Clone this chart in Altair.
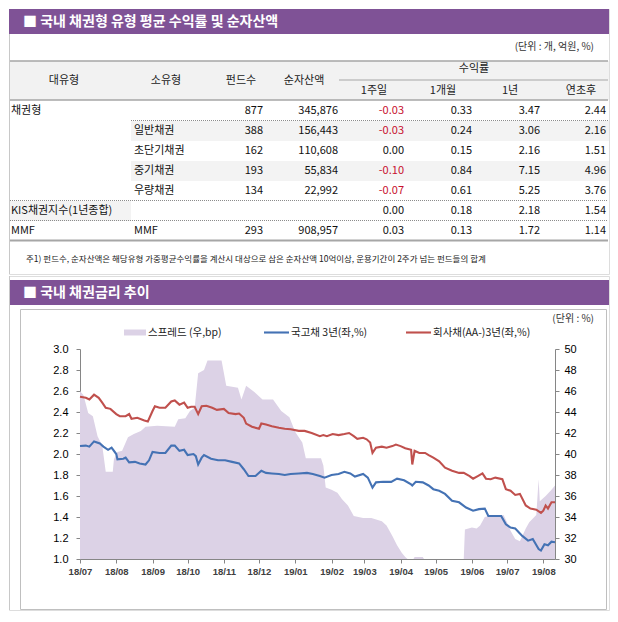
import altair as alt
import pandas as pd

FONT = "Noto Sans CJK KR"
NUMFONT = "Liberation Sans"
PURPLE = "#7f5296"
AREA = "#dcd2e6"
BLUE = "#4472b4"
RED = "#c0504d"
S = 1.0  # global layout scale


def P(v):
    return round(v * S, 2)


# ---------------- table ----------------
title_1 = "■ 국내 채권형 유형 평균 수익률 및 순자산액"
unit_1 = "(단위 : 개, 억원, %)"
header_cols = ["대유형", "소유형", "펀드수", "순자산액"]
return_group = "수익률"
return_cols = ["1주일", "1개월", "1년", "연초후"]
major_type = ["채권형", "", "", "", "", "KIS채권지수(1년종합)", "MMF"]
minor_type = ["", "일반채권", "초단기채권", "중기채권", "우량채권", "", "MMF"]
fund_count = [877, 388, 162, 193, 134, None, 293]
net_assets = [345876, 156443, 110608, 55834, 22992, None, 908957]
ret_1w = [-0.03, -0.03, 0.00, -0.10, -0.07, 0.00, 0.03]
ret_1m = [0.33, 0.24, 0.15, 0.84, 0.61, 0.18, 0.13]
ret_1y = [3.47, 3.06, 2.16, 7.15, 5.25, 2.18, 1.72]
ret_ytd = [2.44, 2.16, 1.51, 4.96, 3.76, 1.54, 1.14]
footnote = "주1) 펀드수, 순자산액은 해당유형 가중평균수익률을 계산시 대상으로 삼은 순자산액 10억이상, 운용기간이 2주가 넘는 펀드들의 합계"

# ---------------- chart ----------------
title_2 = "■ 국내 채권금리 추이"
unit_2 = "(단위 : %)"
legend_labels = ["스프레드 (우,bp)", "국고채 3년(좌,%)", "회사채(AA-)3년(좌,%)"]
y_left_ticks = [1.0, 1.2, 1.4, 1.6, 1.8, 2.0, 2.2, 2.4, 2.6, 2.8, 3.0]
y_right_ticks = [30, 32, 34, 36, 38, 40, 42, 44, 46, 48, 50]
month_ticks = [(2018, 7), (2018, 8), (2018, 9), (2018, 10), (2018, 11), (2018, 12),
               (2019, 1), (2019, 2), (2019, 3), (2019, 4), (2019, 5), (2019, 6),
               (2019, 7), (2019, 8)]

spread_dates = ["2018-07-01", "2018-07-04", "2018-07-08", "2018-07-12", "2018-07-16", "2018-07-20",
                "2018-07-23", "2018-07-29", "2018-07-30", "2018-08-02", "2018-08-06", "2018-08-11",
                "2018-08-16", "2018-08-22", "2018-08-26", "2018-09-05", "2018-09-20", "2018-09-23",
                "2018-09-29", "2018-10-03", "2018-10-07", "2018-10-10", "2018-10-15", "2018-10-18",
                "2018-10-30", "2018-11-03", "2018-11-13", "2018-11-16", "2018-11-20", "2018-11-27",
                "2018-12-04", "2018-12-13", "2018-12-20", "2018-12-27", "2019-01-01", "2019-01-07",
                "2019-01-10", "2019-01-23", "2019-01-25", "2019-01-27", "2019-02-01", "2019-02-06",
                "2019-02-10", "2019-02-15", "2019-02-20", "2019-02-28", "2019-03-07", "2019-03-16",
                "2019-03-20", "2019-03-25", "2019-03-29", "2019-04-02", "2019-04-05", "2019-04-07",
                "2019-04-12", "2019-04-13", "2019-04-20", "2019-04-21", "2019-05-25", "2019-05-26",
                "2019-05-29", "2019-06-01", "2019-06-05", "2019-06-08", "2019-06-12", "2019-06-16",
                "2019-06-22", "2019-06-28", "2019-07-01", "2019-07-04", "2019-07-08", "2019-07-12",
                "2019-07-17", "2019-07-20", "2019-07-26", "2019-07-28", "2019-07-29", "2019-08-03",
                "2019-08-08", "2019-08-11"]
spread_bp = [46.0, 45.6, 43.9, 43.6, 41.7, 40.8,
             38.3, 38.3, 39.5, 40.2, 40.3, 41.6,
             41.9, 42.2, 42.6, 42.7, 42.6, 43.3,
             43.4, 44.1, 44.4, 47.7, 48.0, 48.9,
             48.9, 46.5, 46.3, 45.2, 46.5, 45.9,
             45.2, 45.2, 44.1, 43.5, 42.1, 41.1,
             39.6, 39.6, 38.9, 36.8, 36.6, 36.3,
             35.7, 35.1, 34.1, 33.9, 33.9, 33.6,
             33.2, 32.2, 31.3, 30.6, 30.2, 30.0,
             30.0, 30.2, 30.2, 30.0, 30.0, 32.8,
             32.9, 33.0, 32.9, 33.2, 34.0, 34.1,
             34.0, 34.2, 33.5, 32.7, 31.9, 31.7,
             32.9, 33.5, 34.2, 37.6, 35.5, 36.0,
             36.6, 37.0]

ktb_dates = ["2018-07-01", "2018-07-06", "2018-07-09", "2018-07-13", "2018-07-18", "2018-07-21",
             "2018-07-25", "2018-07-28", "2018-08-01", "2018-08-02", "2018-08-07", "2018-08-09",
             "2018-08-12", "2018-08-17", "2018-08-21", "2018-08-26", "2018-08-29", "2018-09-01",
             "2018-09-07", "2018-09-12", "2018-09-17", "2018-09-20", "2018-09-24", "2018-09-28",
             "2018-10-01", "2018-10-06", "2018-10-08", "2018-10-10", "2018-10-13", "2018-10-15",
             "2018-10-21", "2018-10-27", "2018-11-02", "2018-11-08", "2018-11-14", "2018-11-18",
             "2018-11-22", "2018-11-28", "2018-12-03", "2018-12-07", "2018-12-12", "2018-12-18",
             "2018-12-23", "2018-12-28", "2019-01-04", "2019-01-11", "2019-01-16", "2019-01-22",
             "2019-01-26", "2019-02-01", "2019-02-07", "2019-02-12", "2019-02-17", "2019-02-21",
             "2019-02-28", "2019-03-04", "2019-03-08", "2019-03-11", "2019-03-17", "2019-03-24",
             "2019-03-29", "2019-04-04", "2019-04-10", "2019-04-11", "2019-04-14", "2019-04-20",
             "2019-04-25", "2019-04-29", "2019-05-04", "2019-05-09", "2019-05-15", "2019-05-21",
             "2019-05-27", "2019-06-02", "2019-06-07", "2019-06-12", "2019-06-15", "2019-06-20",
             "2019-06-26", "2019-06-30", "2019-07-04", "2019-07-08", "2019-07-14", "2019-07-19",
             "2019-07-23", "2019-07-28", "2019-07-30", "2019-08-02", "2019-08-05", "2019-08-08",
             "2019-08-11"]
ktb_3y = [2.076, 2.08, 2.07, 2.12, 2.10, 2.07,
          2.04, 2.06, 2.00, 1.95, 1.955, 1.965,
          1.92, 1.925, 1.91, 1.90, 1.94, 2.02,
          2.01, 2.01, 2.08, 2.08, 2.03, 2.04,
          1.99, 2.00, 1.98, 1.90, 1.965, 1.99,
          1.955, 1.94, 1.94, 1.925, 1.91, 1.855,
          1.79, 1.79, 1.84, 1.82, 1.815, 1.81,
          1.80, 1.81, 1.815, 1.82, 1.81, 1.79,
          1.775, 1.80, 1.81, 1.83, 1.815, 1.785,
          1.81, 1.775, 1.68, 1.73, 1.735, 1.735,
          1.765, 1.75, 1.71, 1.70, 1.735, 1.73,
          1.70, 1.665, 1.65, 1.62, 1.555, 1.54,
          1.49, 1.46, 1.475, 1.48, 1.41, 1.41,
          1.41, 1.33, 1.30, 1.29, 1.22, 1.175,
          1.19, 1.095, 1.08, 1.14, 1.13, 1.165,
          1.16]

corp_dates = ["2018-07-01", "2018-07-06", "2018-07-09", "2018-07-13", "2018-07-17", "2018-07-20",
              "2018-07-23", "2018-07-27", "2018-08-01", "2018-08-04", "2018-08-09", "2018-08-12",
              "2018-08-14", "2018-08-19", "2018-08-25", "2018-08-28", "2018-09-01", "2018-09-03",
              "2018-09-07", "2018-09-12", "2018-09-17", "2018-09-20", "2018-09-24", "2018-09-28",
              "2018-10-01", "2018-10-04", "2018-10-07", "2018-10-10", "2018-10-13", "2018-10-17",
              "2018-10-22", "2018-10-26", "2018-11-01", "2018-11-05", "2018-11-11", "2018-11-14",
              "2018-11-18", "2018-11-20", "2018-11-25", "2018-12-01", "2018-12-03", "2018-12-07",
              "2018-12-12", "2018-12-18", "2018-12-23", "2018-12-28", "2019-01-04", "2019-01-09",
              "2019-01-15", "2019-01-22", "2019-01-25", "2019-01-28", "2019-02-02", "2019-02-07",
              "2019-02-12", "2019-02-16", "2019-02-20", "2019-02-23", "2019-02-28", "2019-03-03",
              "2019-03-06", "2019-03-08", "2019-03-11", "2019-03-16", "2019-03-20", "2019-03-25",
              "2019-03-28", "2019-04-01", "2019-04-05", "2019-04-10", "2019-04-11", "2019-04-13",
              "2019-04-17", "2019-04-22", "2019-04-25", "2019-04-29", "2019-05-04", "2019-05-09",
              "2019-05-15", "2019-05-21", "2019-05-25", "2019-05-30", "2019-06-02", "2019-06-06",
              "2019-06-10", "2019-06-13", "2019-06-17", "2019-06-21", "2019-06-27", "2019-06-30",
              "2019-07-04", "2019-07-08", "2019-07-12", "2019-07-17", "2019-07-21", "2019-07-26",
              "2019-07-30", "2019-08-01", "2019-08-03", "2019-08-05", "2019-08-08", "2019-08-11"]
corp_3y = [2.545, 2.535, 2.52, 2.565, 2.535, 2.49,
           2.44, 2.43, 2.38, 2.36, 2.36, 2.38,
           2.335, 2.345, 2.32, 2.31, 2.41, 2.455,
           2.44, 2.44, 2.50, 2.51, 2.47, 2.49,
           2.44, 2.45, 2.45, 2.38, 2.455, 2.46,
           2.44, 2.42, 2.43, 2.39, 2.38, 2.385,
           2.345, 2.29, 2.26, 2.24, 2.29, 2.28,
           2.265, 2.25, 2.24, 2.235, 2.22, 2.22,
           2.20, 2.17, 2.18, 2.17, 2.19, 2.18,
           2.19, 2.20, 2.17, 2.145, 2.155, 2.14,
           2.11, 2.01, 2.06, 2.07, 2.06, 2.075,
           2.09, 2.075, 2.055, 2.04, 1.90, 2.03,
           2.01, 2.01, 1.99, 1.965, 1.93, 1.87,
           1.84, 1.82, 1.82, 1.79, 1.765, 1.79,
           1.815, 1.765, 1.76, 1.775, 1.76, 1.665,
           1.65, 1.61, 1.62, 1.51, 1.48, 1.47,
           1.44, 1.46, 1.51, 1.48, 1.54, 1.54]

one = pd.DataFrame({"k": [0]})


def txt(s, x, y, size=11, align="center", color="#111", weight="normal", font=FONT):
    return alt.Chart(one).mark_text(text=s, align=align, baseline="middle", fontSize=P(size),
                                    color=color, fontWeight=weight, font=font).encode(
        x=alt.value(P(x)), y=alt.value(P(y)))


def hrule(x1, x2, y, color, width=1.0, dash=None):
    kw = dict(color=color, strokeWidth=width)
    if dash:
        kw["strokeDash"] = dash
    return alt.Chart(one).mark_rule(**kw).encode(
        x=alt.value(P(x1)), x2=alt.value(P(x2)), y=alt.value(P(y)))


def vrule(x, y1, y2, color):
    return alt.Chart(one).mark_rule(color=color, strokeWidth=1).encode(
        x=alt.value(P(x)), y=alt.value(P(y1)), y2=alt.value(P(y2)))


def box(x1, x2, y1, y2, **kw):
    return alt.Chart(one).mark_rect(**kw).encode(
        x=alt.value(P(x1)), x2=alt.value(P(x2)), y=alt.value(P(y1)), y2=alt.value(P(y2)))


# ---------- table data frame ----------
row_keys = [str(i) for i in range(len(major_type))]
tbl = pd.DataFrame({
    "row": row_keys,
    "major": major_type,
    "minor": minor_type,
    "funds": ["" if v is None else f"{v:,}" for v in fund_count],
    "assets": ["" if v is None else f"{v:,}" for v in net_assets],
    "w1": ret_1w,
    "w1_txt": [f"{v:.2f}" for v in ret_1w],
    "m1_txt": [f"{v:.2f}" for v in ret_1m],
    "y1_txt": [f"{v:.2f}" for v in ret_1y],
    "ytd_txt": [f"{v:.2f}" for v in ret_ytd],
})

row_y = alt.Y("row:N", scale=alt.Scale(type="point", domain=row_keys, range=[P(102), P(222)],
                                       padding=0), axis=None)


def row_band(rows, x1, x2, color="#f3f3f3"):
    return alt.Chart(tbl).mark_rect(color=color, yOffset=-P(10), y2Offset=P(10)).encode(
        y=row_y, y2=alt.Y2("row:N"), x=alt.value(P(x1)), x2=alt.value(P(x2))).transform_filter(
        alt.FieldOneOfPredicate(field="row", oneOf=rows))


TW = 600
TH = 265
layers_top = [
    box(0, TW, 0, 25, color=PURPLE),
    txt(title_1, 14, 13, size=14, align="left", color="white", weight="bold"),
    txt(unit_1, 585, 38, size=10, align="right", color="#333"),
    box(0, TW, 52, 91, color="#f2f2f2"),
    row_band(["1", "3"], 122, TW),
    row_band(["5"], 0, 122),
    hrule(1, TW - 1, 52, "#a6a6a6", 1.5),
    hrule(330, TW - 1, 71, "#a6a6a6", 1),
    hrule(1, TW - 1, 91, "#a6a6a6", 1.5),
    hrule(122, TW - 1, 111.5, "#8c8c8c", 1, [1, 1]),
    hrule(1, TW - 1, 191.5, "#8c8c8c", 1, [1, 1]),
    hrule(1, TW - 1, 211.5, "#8c8c8c", 1, [1, 1]),
    hrule(1, TW - 1, 231.5, "#a6a6a6", 2),
    vrule(0.5, 25, TH, "#c8c8c8"),
    txt(header_cols[0], 55, 72, color="#222"),
    txt(header_cols[1], 157, 72, color="#222"),
    txt(header_cols[2], 232, 72, color="#222"),
    txt(header_cols[3], 295, 72, color="#222"),
    txt(return_group, 465, 60, color="#222"),
    txt(return_cols[0], 365, 82, color="#222"),
    txt(return_cols[1], 434, 82, color="#222"),
    txt(return_cols[2], 501, 82, color="#222"),
    txt(return_cols[3], 572, 82, color="#222"),
    txt(footnote, 17, 250, size=8.5, align="left", color="#222"),
]

col_specs = [("major", 2, "left"), ("minor", 125, "left"), ("funds", 254, "right"),
             ("assets", 329, "right"), ("m1_txt", 463, "right"), ("y1_txt", 531, "right"),
             ("ytd_txt", 597, "right")]
for field, xpos, align in col_specs:
    layers_top.append(
        alt.Chart(tbl).mark_text(align=align, baseline="middle", fontSize=P(11), font=FONT,
                                 color="#111").encode(
            x=alt.value(P(xpos)), y=row_y, text=f"{field}:N"))
layers_top.append(
    alt.Chart(tbl).mark_text(align="right", baseline="middle", fontSize=P(11), font=FONT).encode(
        x=alt.value(P(395)), y=row_y, text="w1_txt:N",
        color=alt.condition("datum.w1 < 0", alt.value("#c8102e"), alt.value("#111"))))

top = alt.layer(*layers_top).properties(width=P(TW), height=P(TH))

# ---------- line chart ----------
spread_df = pd.DataFrame({"date": pd.to_datetime(spread_dates), "bp": spread_bp})
lines_df = pd.concat([
    pd.DataFrame({"date": pd.to_datetime(ktb_dates), "rate": ktb_3y, "series": legend_labels[1]}),
    pd.DataFrame({"date": pd.to_datetime(corp_dates), "rate": corp_3y, "series": legend_labels[2]}),
], ignore_index=True)

BH = 334
PX0, PX1 = 71, 546
PY0, PY1 = 73, 283

x_scale = alt.Scale(domain=[alt.DateTime(year=2018, month=7, date=1),
                            alt.DateTime(year=2019, month=8, date=11)],
                    range=[P(PX0), P(PX1)])
x_axis = alt.Axis(orient="bottom", offset=-(P(BH) - P(PY1)),
                  values=[alt.DateTime(year=y, month=m, date=1) for y, m in month_ticks],
                  format="%y/%m", labelFont=NUMFONT, labelFontSize=P(9.5), labelFontWeight="bold",
                  labelColor="#404040", tickSize=4, tickColor="#868686", domainColor="#868686",
                  labelPadding=3, labelOverlap=False, labelFlush=False, grid=False)
left_axis = alt.Axis(orient="left", offset=-P(PX0), values=y_left_ticks, format=".1f",
                     labelFont=NUMFONT, labelFontSize=P(11), labelColor="#000", tickSize=4,
                     labelPadding=P(8), domainColor="#868686", tickColor="#868686", grid=False,
                     labelFlush=False, labelOverlap=False)
right_axis = alt.Axis(orient="right", offset=-(P(TW) - P(PX1)), values=y_right_ticks, format="d",
                      labelFont=NUMFONT, labelFontSize=P(11), labelColor="#000", tickSize=4,
                      labelPadding=P(5), domainColor="#868686", tickColor="#868686", grid=False,
                      labelFlush=False, labelOverlap=False)

area = alt.Chart(spread_df).mark_area(color=AREA, opacity=1).encode(
    x=alt.X("date:T", scale=x_scale, axis=x_axis, title=None),
    y=alt.Y("bp:Q", scale=alt.Scale(domain=[30, 50], range=[P(PY1), P(PY0)], clamp=True),
            axis=right_axis, title=None),
    y2=alt.datum(30),
)
lines = alt.Chart(lines_df).mark_line(strokeWidth=2.1).encode(
    x=alt.X("date:T", scale=x_scale, axis=x_axis, title=None),
    y=alt.Y("rate:Q", scale=alt.Scale(domain=[1.0, 3.0], range=[P(PY1), P(PY0)]),
            axis=left_axis, title=None),
    color=alt.Color("series:N", scale=alt.Scale(domain=legend_labels[1:], range=[BLUE, RED]),
                    legend=None),
)

deco = alt.layer(
    box(0, TW, 4, 29, color=PURPLE),
    txt(title_2, 14, 16.5, size=14, align="left", color="white", weight="bold"),
    box(11.5, 597.5, 33.5, BH - 0.5, fillOpacity=0, stroke="#bfbfbf", strokeWidth=1),
    vrule(0.5, 0, BH, "#c8c8c8"),
    txt(unit_2, 585, 43, size=10, align="right", color="#333"),
    box(115, 137, 53.5, 59.5, color=AREA),
    hrule(255, 280, 56.5, BLUE, 2.1),
    hrule(397, 422, 56.5, RED, 2.1),
    txt(legend_labels[0], 139, 56.5, size=10.5, align="left", color="#222"),
    txt(legend_labels[1], 282, 56.5, size=10.5, align="left", color="#222"),
    txt(legend_labels[2], 424, 56.5, size=10.5, align="left", color="#222"),
)

bottom = alt.layer(deco, area, lines).resolve_scale(y="independent").properties(
    width=P(TW), height=P(BH))

chart = alt.vconcat(top, bottom, spacing=0).properties(padding=0).configure_view(
    strokeWidth=0).configure(font=FONT)

chart.save("out.html", embed_options={"renderer": "svg", "actions": False})
